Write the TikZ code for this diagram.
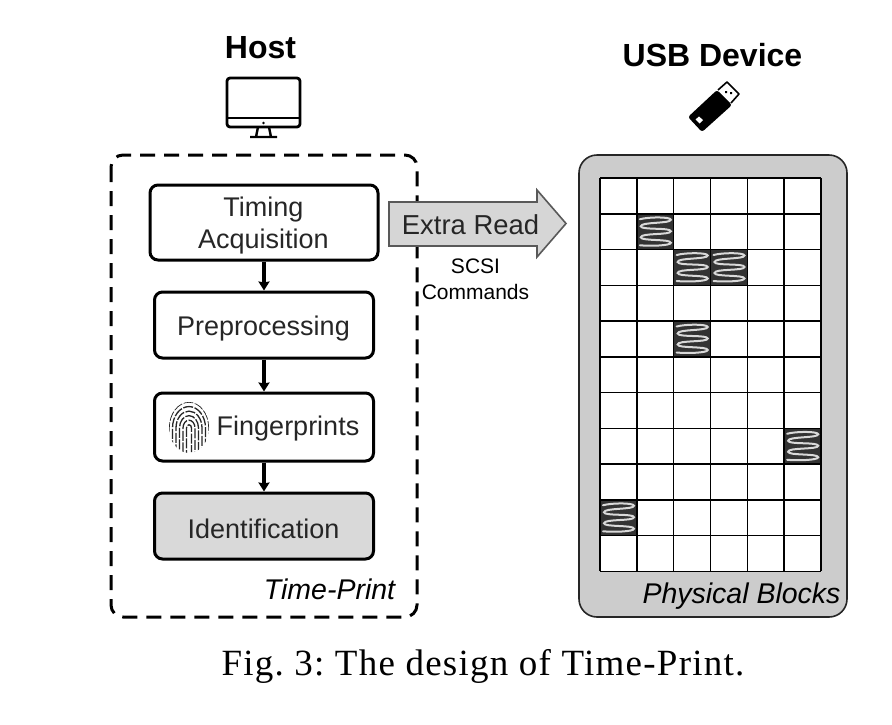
\documentclass[tikz,border=0pt]{standalone}
\usepackage{fontspec}
\setmainfont{Liberation Sans}
\newfontfamily\capfont[LetterSpace=3.4]{Liberation Serif}
\usetikzlibrary{arrows.meta}
\tikzset{
  flowbox/.style={draw=black,line width=3pt,rounded corners=8pt,fill=white,minimum width=#1,inner sep=0pt},
  boxtext/.style={inner sep=0pt,align=center,text=black!85,font=\fontsize{27}{32}\selectfont},
  flow/.style={draw=black,line width=3.2pt,-{Stealth[length=9pt,width=11pt,inset=1pt]}},
  headline/.style={font=\fontsize{32}{36}\selectfont\bfseries,inner sep=0pt},
  tag/.style={font=\fontsize{28.5}{32}\selectfont\itshape,inner sep=0pt},
  small/.style={font=\fontsize{21}{26}\selectfont,align=center,inner sep=0pt},
  icon/.style={draw=black,line width=2.8pt,line join=round},
  ridge/.style={draw=black!85,line width=1.3pt,dash pattern=on 10pt off 1.6pt},
  coil/.style={draw=white!85!black,line width=2pt,line cap=round},
}
\newcommand{\coilcell}[2]{%
  \begin{scope}[shift={({600+36.83*#1},{178+35.75*#2})}]
    \fill[black!80] (0,0) rectangle (36.83,35.75);
    \draw[coil] (3,5.5) .. controls (12,3) and (34,3) .. (34,6)
      .. controls (34,10) and (4,8) .. (4,12.5)
      .. controls (4,16.5) and (34,13.5) .. (34,17.5)
      .. controls (34,21.5) and (4,19) .. (4,23.5)
      .. controls (4,27.5) and (34,25) .. (34,29)
      .. controls (34,32) and (12,32.5) .. (3,31.5);
  \end{scope}}
\begin{document}
\begin{tikzpicture}[x=1pt,y=-1pt]
\useasboundingbox (0,0) rectangle (892,724);
\fill[white] (0,0) rectangle (892,724);

% host container
\draw[black,line width=3pt,rounded corners=12pt,dash pattern=on 15pt off 9pt] (111,155) rectangle (417,617);

% USB container
\draw[draw=black!85,fill=black!20,line width=1.6pt,rounded corners=18pt] (579,155) rectangle (847,617);
\fill[white] (600,178) rectangle (821,571);
\coilcell{1}{1}\coilcell{2}{2}\coilcell{3}{2}\coilcell{2}{4}\coilcell{5}{7}\coilcell{0}{9}
\foreach \c in {0,...,6} \draw[black,line width=1.5pt] ({600+36.83*\c},178) -- ({600+36.83*\c},571);
\foreach \r in {0,...,11} \draw[black,line width=1.5pt] (600,{178+35.75*\r}) -- (821,{178+35.75*\r});

% boxes
\node[flowbox=228pt,minimum height=75pt] (timing) at (264,222.5) {};
\node[flowbox=219pt,minimum height=66pt] (prep) at (264,325) {};
\node[flowbox=219pt,minimum height=68pt] (finger) at (264,427) {};
\node[flowbox=219pt,minimum height=66pt,fill=black!15] (ident) at (264,526) {};
\node[boxtext] (timingtext) at (263.5,226) {Timing\\Acquisition};
\node[boxtext] (preptext) at (263.5,328.5) {Preprocessing};
\node[boxtext] (fingertext) at (288,428.5) {Fingerprints};
\node[boxtext] (identtext) at (263.5,528.5) {Identification};
\draw[flow] (timing.south) -- (prep.north);
\draw[flow] (prep.south) -- (finger.north);
\draw[flow] (finger.south) -- (ident.north);

% fingerprint icon
\begin{scope}
  \clip (189,427.5) ellipse [x radius=20,y radius=25.5];
  \foreach \r/\o in {2.5/0,6/4,9.5/1,13/6,16.5/2,20/7} {
    \draw[ridge,dash phase=\o pt] ({189-\r},460) -- ({189-\r},428) arc[x radius=\r,y radius={\r*1.3},start angle=180,end angle=360] -- ({189+\r},452);
  }
\end{scope}

% extra read arrow
\draw[draw=black!65,fill=black!16,line width=1.6pt,line join=miter] (389,202) -- (537,202) -- (537,190) -- (566,223.5) -- (537,257) -- (537,246) -- (389,246) -- cycle;
\node[inner sep=0pt,text=black!85,font=\fontsize{27.4}{30}\selectfont] (extra) at (470.5,225) {Extra Read};
\node[small] (scsi) at (475.5,279) {SCSI\\Commands};

% labels
\node[headline] (host) at (260.5,48) {Host};
\node[headline] (usb) at (712.5,55) {USB Device};
\node[tag] (tp) at (329.5,589.5) {Time-Print};
\node[tag] (pb) at (741.5,596.5) {Physical Blocks};
\node[inner sep=0pt,font=\capfont\fontsize{37}{40}\selectfont] (cap) at (483,666) {Fig.\ 3:\ The\ design\ of\ Time-Print.};

% monitor icon
\draw[icon,rounded corners=3pt] (227,78) rectangle (300,127);
\draw[icon] (227,118) -- (300,118);
\fill[black] (263.5,123) circle (1.4pt);
\draw[icon,line width=2.4pt] (258,127) -- (256,137) (269,127) -- (271,137) (250,137) -- (277,137);

% usb stick icon
\fill[black,rounded corners=2.5pt] (702,132) -- (688,117) -- (717,90) -- (732,105) -- cycle;
\draw[black,line width=1.6pt,line join=round] (718,90) -- (727,82) -- (739,94) -- (731,103);
\fill[white] (695.5,119.5) -- (699,116.5) -- (703,120) -- (699.5,123.5) -- cycle;
\fill[black] (725,91) rectangle +(2.2,2.2) (730,92) rectangle +(2.2,2.2);
\end{tikzpicture}
\end{document}
